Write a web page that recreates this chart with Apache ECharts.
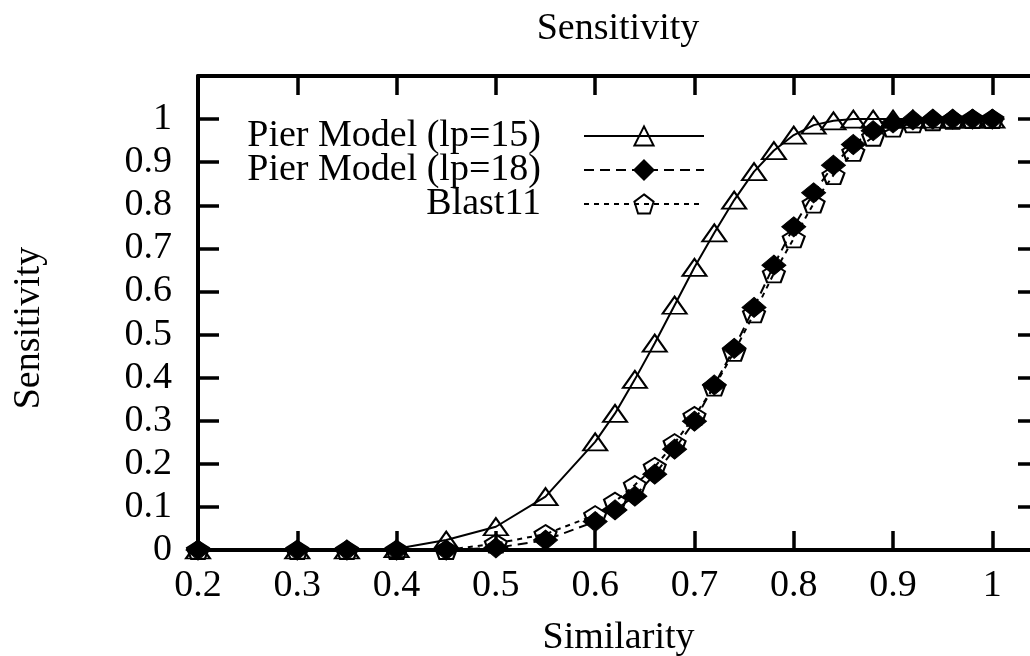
<!DOCTYPE html>
<html>
<head>
<meta charset="utf-8">
<script src="https://cdn.jsdelivr.net/npm/echarts@6/dist/echarts.min.js"></script>
<style>
html,body{margin:0;padding:0;background:#fff;overflow:hidden;width:1030px;height:656px;}
#chart{width:1045px;height:656px;}
</style>
</head>
<body>
<div id="chart"></div>
<script>
const similarity = [0.2, 0.3, 0.35, 0.4, 0.45, 0.5, 0.55,
  0.6, 0.62, 0.64, 0.66, 0.68, 0.7, 0.72, 0.74, 0.76, 0.78,
  0.8, 0.82, 0.84, 0.86, 0.88, 0.9, 0.92, 0.94, 0.96, 0.98, 1.0];
const pier15 = [0, 0, 0, 0.003, 0.023, 0.054, 0.124,
  0.251, 0.317, 0.396, 0.48, 0.568, 0.656, 0.736, 0.812, 0.878, 0.927,
  0.963, 0.986, 0.996, 1.0, 1, 1, 1, 1, 1, 1, 1];
const pier18 = [0, 0, 0, 0, 0, 0.005, 0.023,
  0.066, 0.093, 0.125, 0.176, 0.234, 0.299, 0.383, 0.468, 0.563, 0.661,
  0.75, 0.829, 0.893, 0.941, 0.973, 0.991, 0.998, 1, 1, 1, 1];
const blast11 = [0, 0, 0, 0, 0, 0.015, 0.037,
  0.081, 0.112, 0.151, 0.193, 0.248, 0.311, 0.379, 0.46, 0.549, 0.642,
  0.723, 0.804, 0.87, 0.924, 0.959, 0.98, 0.99, 0.995, 0.998, 1, 1];
const seriesNames = ['Pier Model (lp=15)', 'Pier Model (lp=18)', 'Blast11'];
const xTickLabels = ['0.2', '0.3', '0.4', '0.5', '0.6', '0.7', '0.8', '0.9', '1'];
const yTickLabels = ['0', '0.1', '0.2', '0.3', '0.4', '0.5', '0.6', '0.7', '0.8', '0.9', '1'];
const titleText = 'Sensitivity';
const xName = 'Similarity';
const yName = 'Sensitivity';

const FONT = '"Liberation Serif", "Times New Roman", serif';
const FS = 38;
const pentagon = 'path://M0,-1 L0.951,-0.309 L0.588,0.809 L-0.588,0.809 L-0.951,-0.309 Z';

function pairs(ys) { return similarity.map((x, i) => [x, ys[i]]); }
function fmt(list) {
  return function (v) {
    const s = String(+(+v).toFixed(1));
    return (Math.abs(v * 10 - Math.round(v * 10)) < 1e-6 && list.indexOf(s) >= 0) ? s : '';
  };
}

const axisLine = { show: true, onZero: false, lineStyle: { color: '#000', width: 4 } };

const chart = echarts.init(document.getElementById('chart'), null, { renderer: 'canvas' });
chart.setOption({
  animation: false,
  backgroundColor: '#fff',
  textStyle: { fontFamily: FONT },
  title: {
    text: titleText, left: 618, top: 10, padding: 0, textAlign: 'center',
    textStyle: { fontFamily: FONT, fontSize: FS, fontWeight: 'normal', color: '#000', lineHeight: FS }
  },
  grid: { left: 198, right: 6, top: 76, bottom: 106, containLabel: false, outerBoundsMode: 'none' },
  legend: {
    orient: 'vertical', align: 'right', right: 340, top: 117, padding: 0,
    itemWidth: 120, itemHeight: 24, itemGap: -4,
    data: seriesNames,
    textStyle: { fontFamily: FONT, fontSize: FS, color: '#000', lineHeight: 24, padding: [0, 38, 0, 0] }
  },
  xAxis: [{
    type: 'value', min: 0.2, max: 1.047, interval: 0.1, position: 'bottom',
    name: xName, nameLocation: 'middle', nameGap: 69,
    nameTextStyle: { fontFamily: FONT, fontSize: FS, color: '#000', lineHeight: FS },
    axisLine: axisLine,
    axisTick: { inside: true, length: 19, lineStyle: { color: '#000', width: 3.5 } },
    axisLabel: { margin: 17, fontFamily: FONT, fontSize: FS, color: '#000', lineHeight: FS, formatter: fmt(xTickLabels), showMaxLabel: true, showMinLabel: true },
    splitLine: { show: false }
  }, {
    type: 'value', min: 0.2, max: 1.047, interval: 0.1, position: 'top',
    axisLine: axisLine,
    axisTick: { inside: true, length: 19, lineStyle: { color: '#000', width: 3.5 } },
    axisLabel: { show: false },
    splitLine: { show: false }
  }],
  yAxis: [{
    type: 'value', min: 0, max: 1.1, interval: 0.1, position: 'left',
    name: yName, nameLocation: 'middle', nameGap: 150, nameRotate: 90,
    nameTextStyle: { fontFamily: FONT, fontSize: FS, color: '#000', lineHeight: FS, padding: [0, 30, 0, 0] },
    axisLine: axisLine,
    axisTick: { inside: true, length: 21, lineStyle: { color: '#000', width: 3.5 } },
    axisLabel: { margin: 26, fontFamily: FONT, fontSize: FS, color: '#000', formatter: fmt(yTickLabels) },
    splitLine: { show: false }
  }, {
    type: 'value', min: 0, max: 1.1, interval: 0.1, position: 'right',
    axisLine: axisLine,
    axisTick: { inside: true, length: 21, lineStyle: { color: '#000', width: 3.5 } },
    axisLabel: { show: false },
    splitLine: { show: false }
  }],
  series: [{
    name: seriesNames[0], type: 'line', xAxisIndex: 0, yAxisIndex: 0,
    data: pairs(pier15),
    symbol: 'triangle', symbolSize: [24, 17], showAllSymbol: true,
    lineStyle: { color: '#000', width: 2, type: 'solid' },
    itemStyle: { color: 'rgba(255,255,255,0)', borderColor: '#000', borderWidth: 2 }
  }, {
    name: seriesNames[1], type: 'line', xAxisIndex: 0, yAxisIndex: 0,
    data: pairs(pier18),
    symbol: 'diamond', symbolSize: [24, 20], showAllSymbol: true,
    lineStyle: { color: '#000', width: 2, type: [10, 6] },
    itemStyle: { color: '#000', borderColor: '#000', borderWidth: 1 }
  }, {
    name: seriesNames[2], type: 'line', xAxisIndex: 0, yAxisIndex: 0,
    data: pairs(blast11),
    symbol: pentagon, symbolSize: [22, 18], showAllSymbol: true,
    lineStyle: { color: '#000', width: 2, type: [5, 5] },
    itemStyle: { color: 'rgba(255,255,255,0)', borderColor: '#000', borderWidth: 2 }
  }]
});
</script>
</body>
</html>
